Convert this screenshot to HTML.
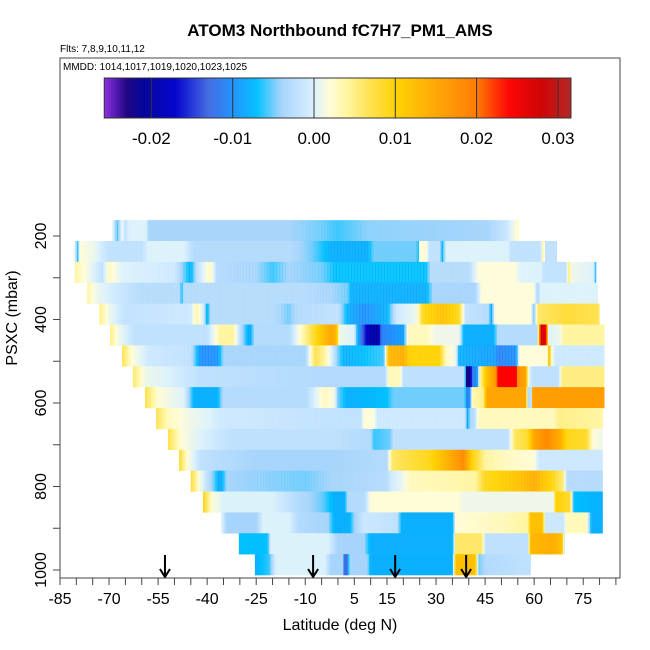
<!DOCTYPE html>
<html><head><meta charset="utf-8">
<style>
html,body{margin:0;padding:0;background:#fff;}
svg{display:block;font-family:"Liberation Sans",sans-serif;}
</style></head>
<body>
<svg id="chart" width="650" height="650" viewBox="0 0 650 650" xmlns="http://www.w3.org/2000/svg">
<text x="340" y="36" text-anchor="middle" font-size="17" font-weight="bold">ATOM3 Northbound fC7H7_PM1_AMS</text>
<text x="60" y="52" font-size="10">Flts: 7,8,9,10,11,12</text>
<g id="heat"></g>
<g id="marks"></g>
<rect x="60" y="58" width="560" height="520" fill="none" stroke="#444" stroke-width="1"/>
<text x="63" y="70" font-size="10">MMDD: 1014,1017,1019,1020,1023,1025</text>
<g id="cbar"></g>
<g id="xaxis"></g>
<g id="yaxis"></g>
<text x="340" y="630" text-anchor="middle" font-size="16">Latitude (deg N)</text>
<text x="0" y="0" transform="translate(17,318) rotate(-90)" text-anchor="middle" font-size="16">PSXC (mbar)</text>
</svg>
<script>
const NS="http://www.w3.org/2000/svg";
// ---- data ----
const rowPressure=[187,237,287,337,387,437,487,537,587,637,687,737,787,837,887,937,987];
const rowStartLat=[-69,-80.7,-80.5,-76.7,-73,-69.7,-66,-62.7,-59,-55.6,-52,-48.6,-45,-41.3,-35.8,-30.3,-25.4];
const rowEndLat=[55.4,67,79,79.5,80,81.5,81.5,81.5,81.5,81,81,81,81,81,81,69.4,59];
const rowStops=[
[[-69,0.001],[-67.5,-0.006],[-66,0.001],[-65,-0.002],[-64,0.0],[-58.5,0.0],[-58,-0.004],[-15,-0.004],[-5,-0.005],[0,-0.006],[9,-0.0045],[46,-0.004],[52,-0.001],[55.4,0.003]],
[[-80.7,0.002],[-79.6,-0.007],[-79,0.002],[-75,0.001],[-70,-0.002],[-60,-0.002],[-58,0.0],[-47,0.0],[-44,-0.003],[-15,-0.003],[-8,-0.005],[-2,-0.008],[9,-0.008],[11,-0.005],[24,-0.005],[24.5,-0.008],[25,0.002],[27,0.002],[28,-0.002],[31,-0.002],[32,-0.008],[33,0.0],[52,0.0],[53,-0.002],[62,-0.002],[62.8,0.005],[63.5,-0.002],[67,-0.002]],
[[-80.5,0.004],[-76,0.001],[-72,-0.002],[-70,0.003],[-66,0.0],[-50,-0.001],[-45,-0.008],[-43,-0.002],[-39,0.003],[-37,-0.003],[-25,-0.004],[-20,-0.006],[-15,-0.004],[-5,-0.005],[-1,-0.007],[27,-0.007],[28.5,-0.003],[40,-0.003],[43,0.002],[54,0.002],[56,0.0],[62,0.0],[63,-0.002],[70,-0.002],[70.5,0.006],[71.5,0.001],[78,0.0],[79,-0.008]],
[[-76.7,0.004],[-74,0.001],[-68,-0.001],[-60,-0.003],[-48.5,-0.003],[-47.8,-0.007],[-47,-0.003],[-10,-0.003],[-2,-0.004],[3,-0.005],[4,-0.008],[27,-0.008],[29,-0.004],[42,-0.004],[44,0.002],[60,0.002],[61,-0.004],[62,0.0],[79.5,0.0]],
[[-73,0.005],[-70,0.001],[-65,-0.002],[-45,-0.001],[-43.2,0.004],[-41,-0.001],[-40,-0.009],[-39,-0.003],[-20,-0.003],[-15,-0.005],[-12,-0.003],[0,-0.002],[3,-0.008],[8,-0.01],[15,-0.008],[18,-0.001],[24,0.001],[26,0.009],[32,0.012],[37,0.009],[39,-0.002],[46,-0.003],[47,-0.009],[48,0.002],[59,0.002],[60,-0.006],[61,0.006],[70,0.008],[80,0.007]],
[[-69.7,0.005],[-67,0.001],[-62,-0.002],[-40,-0.002],[-36,0.004],[-32,0.004],[-30,-0.002],[-27,-0.009],[-25.5,-0.003],[-15,-0.003],[-11,0.003],[-6,0.01],[-2,0.015],[-0.5,0.013],[0.5,0.001],[5,0.0],[6,-0.008],[9,-0.018],[12,-0.021],[13.5,-0.011],[20,-0.009],[21.5,0.003],[27,0.003],[30,0.001],[37,0.001],[38.5,-0.008],[47.5,-0.008],[49,-0.003],[61,-0.003],[62,0.028],[63.5,0.026],[64.5,0.0],[68,0.001],[69,0.004],[81.5,0.004]],
[[-66,0.007],[-63,0.002],[-58,-0.001],[-45,-0.002],[-42,-0.01],[-37,-0.01],[-35,-0.004],[-10,-0.004],[-7,0.007],[-4,0.004],[-2,0.0],[0,-0.005],[2,-0.008],[14,-0.006],[15.5,0.013],[20,0.014],[22,0.01],[31,0.01],[33,0.003],[36,0.001],[37,-0.008],[48,-0.009],[49,-0.011],[54.5,-0.01],[55.5,0.002],[64,0.002],[64.6,0.014],[65.3,0.002],[66.5,-0.001],[81.5,-0.001]],
[[-62.7,0.006],[-59,0.001],[-52,0.0],[-42,-0.002],[-5,-0.003],[14.5,-0.003],[15.5,0.003],[19,0.003],[20,-0.002],[38.8,-0.002],[39.4,-0.024],[40.4,-0.022],[41,-0.012],[42.5,-0.01],[43.5,0.004],[45.5,0.012],[48,0.016],[49,0.024],[54.5,0.024],[55,0.017],[57.5,0.015],[58.3,0.001],[59.5,-0.002],[67.5,-0.002],[68.5,0.005],[81.5,0.005]],
[[-59,0.007],[-55,0.002],[-47,0.0],[-44,-0.008],[-37,-0.008],[-35,-0.003],[-10,-0.003],[-4,0.003],[-1,0.001],[0,-0.005],[3,-0.008],[15,-0.007],[17,-0.005],[38.8,-0.005],[39.4,-0.011],[40.4,-0.01],[41,0.003],[44.5,0.005],[45.5,0.015],[57.5,0.015],[58,-0.003],[59.3,-0.002],[59.6,0.016],[81.5,0.016]],
[[-55.6,0.007],[-52,0.003],[-45,0.001],[-39,0.0],[-36,-0.001],[-2,-0.002],[7,-0.002],[8,0.002],[11,0.002],[12,-0.001],[39,-0.001],[39.4,-0.01],[40.4,-0.004],[42,-0.002],[43,0.003],[66,0.003],[67.5,0.005],[81,0.004]],
[[-52,0.007],[-48,0.002],[-42,0.0],[-32,-0.002],[-2,-0.002],[10,-0.003],[11,-0.006],[16,-0.005],[17,-0.002],[52,-0.002],[54,0.006],[58,0.008],[60,0.015],[64,0.018],[68,0.014],[70,0.009],[76,0.008],[78,0.002],[81,0.001]],
[[-48.6,0.008],[-46,0.002],[-42,-0.002],[-25,-0.004],[-2,-0.004],[15,-0.003],[16.5,0.006],[28,0.009],[34,0.014],[38.4,0.018],[41,0.01],[45,0.004],[50,0.003],[60,0.002],[61.5,-0.001],[81,-0.001]],
[[-45,0.008],[-42,0.001],[-38,-0.005],[-36,-0.009],[-34,-0.004],[-10,-0.005],[-2,-0.004],[15,-0.003],[16,-0.001],[20,0.001],[22,0.003],[42,0.004],[45,0.009],[56,0.012],[60,0.014],[66,0.009],[69,0.005],[70,-0.003],[81,-0.003]],
[[-41.3,0.009],[-38.5,0.002],[-35,0.0],[-20,0.0],[-12,-0.003],[-5,-0.005],[-1,-0.008],[2,-0.008],[3,-0.003],[8,-0.003],[10,0.002],[37,0.002],[38,0.001],[66,0.001],[66.5,0.01],[71,0.008],[72,-0.007],[81,-0.008]],
[[-35.8,0.001],[-34,-0.004],[-25,-0.004],[-23,0.0],[-15,0.0],[-12,-0.003],[-3,-0.004],[-1,-0.008],[3.5,-0.008],[5,-0.004],[8,-0.001],[18,-0.002],[19.5,-0.008],[35,-0.008],[36,0.002],[50,0.003],[58,0.004],[59,0.012],[62.5,0.012],[63.5,-0.001],[69,-0.001],[70,0.003],[76,0.003],[77.5,-0.008],[81,-0.008]],
[[-30.3,-0.007],[-21.5,-0.007],[-20.5,0.0],[-3,0.0],[0,-0.004],[8,-0.004],[10,-0.008],[35,-0.008],[36,0.006],[44,0.006],[45,-0.002],[58,-0.002],[59,0.013],[66,0.014],[68.5,0.012],[69.4,-0.003]],
[[-25.4,-0.008],[-21,-0.006],[-19,0.0],[-4,0.0],[-2,-0.004],[1.5,-0.004],[2,-0.014],[2.8,-0.012],[3.5,-0.004],[9,-0.004],[10,-0.008],[35,-0.008],[36,0.012],[42,0.012],[43,-0.005],[45.5,-0.003],[59,-0.002]]
];
const rowHalfHeight=25;
const xTickLabels=[-85,-70,-55,-40,-25,-10,5,15,30,45,60,75];
const yTickLabels=[200,400,600,800,1000];
const flightArrowLats=[-52.9,-7.6,17.5,39.2];
const cbarTicks=[-0.02,-0.01,0,0.01,0.02,0.03];
const cbarMin=-0.0258, cbarMax=0.0316;
// ---- scales ----
function xs(lat){return 60+(lat+85)*3.27;}
function ys(p){return 236+(p-200)*0.4175;}
function cbx(v){return 314+v*8130;}
const cmapV=[-0.0258,-0.023,-0.021,-0.017,-0.013,-0.01,-0.007,-0.004,-0.001,0,0.002,0.004,0.007,0.01,0.015,0.02,0.022,0.024,0.028,0.0316];
const cmapC=["#8a2be2","#1a0080","#000099","#0000cd","#4169e1","#1e90ff","#00bfff","#a6d4fb","#cce8ff","#dcf2fb","#fffcd8","#fff5a0","#ffe04a","#ffd200","#ffa500","#ff7a00","#ff3a00","#ff0000","#cc0000","#b22222"];
function hex(c){return [parseInt(c.slice(1,3),16),parseInt(c.slice(3,5),16),parseInt(c.slice(5,7),16)];}
function cmap(v){
  if(v<=cmapV[0])return cmapC[0];
  for(let i=1;i<cmapV.length;i++){
    if(v<=cmapV[i]){const t=(v-cmapV[i-1])/(cmapV[i]-cmapV[i-1]);const a=hex(cmapC[i-1]),b=hex(cmapC[i]);
      return "rgb("+a.map((x,k)=>Math.round(x+(b[k]-x)*t)).join(",")+")";}
  }
  return cmapC[cmapC.length-1];
}
function interp(st,lat){
  if(lat<=st[0][0])return st[0][1];
  for(let i=1;i<st.length;i++){if(lat<=st[i][0]){const t=(lat-st[i-1][0])/(st[i][0]-st[i-1][0]);return st[i-1][1]+t*(st[i][1]-st[i-1][1]);}}
  return st[st.length-1][1];
}
function mk(tag,attrs,parent){const e=document.createElementNS(NS,tag);for(const k in attrs)e.setAttribute(k,attrs[k]);parent.appendChild(e);return e;}
// ---- heatmap ----
const heat=document.getElementById('heat');
rowPressure.forEach((p,r)=>{
  const g=mk('g',{},heat);
  
  
  const y0=ys(p-rowHalfHeight), y1=ys(p+rowHalfHeight);
  const xa=xs(rowStartLat[r]), xb=Math.min(xs(rowEndLat[r]),620);
  for(let x=xa;x<xb;x+=1.5){
    const lat=(x+0.75-60)/3.27-85;
    const c=mk('rect',{x:x.toFixed(2),y:y0.toFixed(2),width:Math.min(1.6,xb-x).toFixed(2),height:(y1-y0+0.3).toFixed(2),fill:cmap(interp(rowStops[r],lat))},g);
    
    
  }
});
// ---- arrows ----
const marks=document.getElementById('marks');
flightArrowLats.forEach(l=>{
  const x=xs(l);
  const a=mk('path',{d:`M${x},555 L${x},576 M${x-5},569 L${x},577 L${x+5},569`,stroke:"#000","stroke-width":2,fill:"none"},marks);
  
  
});
// ---- colorbar ----
const cb=document.getElementById('cbar');
for(let x=cbx(cbarMin);x<cbx(cbarMax);x+=1){
  const v=(x+0.5-314)/8130;
  const r=mk('rect',{x:x,y:78,width:1.2,height:40,fill:cmap(v)},cb);
  
  
}
mk('rect',{x:cbx(cbarMin),y:78,width:cbx(cbarMax)-cbx(cbarMin),height:40,fill:"none",stroke:"#333"},cb);
cbarTicks.forEach(v=>{
  const x=cbx(v);
  const l=mk('line',{x1:x,x2:x,y1:78,y2:118,stroke:"#333","stroke-width":1},cb);
  
  
  const t=mk('text',{x:x,y:144,"text-anchor":"middle","font-size":17},cb);
  t.textContent=v===0?"0.00":v.toFixed(2);
  
  
});
// ---- x axis ----
const xa=document.getElementById('xaxis');
for(let lat=-85;lat<=85;lat+=5){
  const x=xs(lat);
  const l=mk('line',{x1:x,x2:x,y1:578,y2:585,stroke:"#444"},xa);
  
  
}
xTickLabels.forEach(v=>{
  const t=mk('text',{x:xs(v),y:604,"text-anchor":"middle","font-size":16},xa);
  t.textContent=v;
  
  
});
// ---- y axis ----
const ya=document.getElementById('yaxis');
for(let p=200;p<=1000;p+=100){
  const l=mk('line',{x1:53,x2:60,y1:ys(p),y2:ys(p),stroke:"#444"},ya);
  
  
}
yTickLabels.forEach(v=>{
  const y=ys(v);
  const t=mk('text',{x:0,y:0,transform:`translate(46,${y}) rotate(-90)`,"text-anchor":"middle","font-size":16},ya);
  t.textContent=v;
  
  
});
</script>
</body></html>
